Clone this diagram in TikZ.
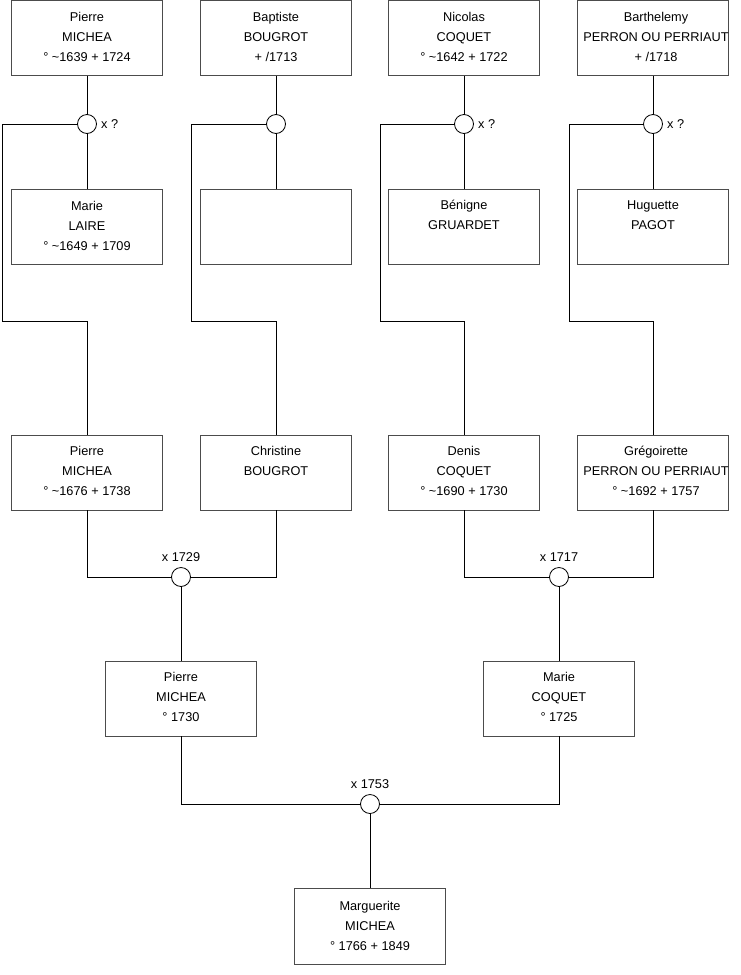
\documentclass[tikz,border=0pt]{standalone}
\usepackage{fontspec}
\setmainfont{Liberation Sans}
\begin{document}
\begin{tikzpicture}[x=1pt,y=-1pt,
  pbox/.style={draw=black!70, line width=0.8pt, minimum width=151pt, minimum height=75pt, inner sep=0pt},
  ptext/.style={anchor=north, align=center, inner sep=0pt, font=\fontsize{12.75}{20}\selectfont},
  ring/.style={circle, draw=black, line width=0.8pt, minimum size=19pt, inner sep=0pt, fill=white},
  lnk/.style={draw=black, line width=0.8pt},
  lab/.style={font=\fontsize{12.75}{14}\selectfont, inner sep=0pt}]
\useasboundingbox (0,0) rectangle (740,975);
\fill[white] (0,0) rectangle (740,975);
% top row
\node[pbox] (a1) at (87,38) {};
\node[pbox] (a2) at (276,38) {};
\node[pbox] (a3) at (464,38) {};
\node[pbox] (a4) at (653,38) {};
% spouses
\node[pbox] (s1) at (87,227) {};
\node[pbox] (s2) at (276,227) {};
\node[pbox] (s3) at (464,227) {};
\node[pbox] (s4) at (653,227) {};
% children
\node[pbox] (r1) at (87,472.5) {};
\node[pbox] (r2) at (276,472.5) {};
\node[pbox] (r3) at (464,472.5) {};
\node[pbox] (r4) at (653,472.5) {};
% row 4
\node[pbox] (q1) at (181,698.5) {};
\node[pbox] (q2) at (559,698.5) {};
% final
\node[pbox, minimum height=76pt] (m) at (370,926) {};
% texts
\node[ptext] (ta1) at ([yshift=-11.5pt]a1.north) {Pierre\\MICHEA\\° \char`~1639 + 1724};
\node[ptext] (ta2) at ([yshift=-11.5pt]a2.north) {Baptiste\\BOUGROT\\+ /1713};
\node[ptext] (ta3) at ([yshift=-11.5pt]a3.north) {Nicolas\\COQUET\\° \char`~1642 + 1722};
\node[ptext] (ta4) at ([xshift=3pt,yshift=-11.5pt]a4.north) {Barthelemy\\PERRON OU PERRIAUT\\+ /1718};
\node[ptext] (ts1) at ([yshift=-11.5pt]s1.north) {Marie\\LAIRE\\° \char`~1649 + 1709};
\node[ptext] (ts3) at ([yshift=-11pt]s3.north) {Bénigne\\GRUARDET};
\node[ptext] (ts4) at ([yshift=-11.5pt]s4.north) {Huguette\\PAGOT};
\node[ptext] (tr1) at ([yshift=-11.5pt]r1.north) {Pierre\\MICHEA\\° \char`~1676 + 1738};
\node[ptext] (tr2) at ([yshift=-11.5pt]r2.north) {Christine\\BOUGROT};
\node[ptext] (tr3) at ([yshift=-11.5pt]r3.north) {Denis\\COQUET\\° \char`~1690 + 1730};
\node[ptext] (tr4) at ([xshift=3pt,yshift=-11pt]r4.north) {Grégoirette\\PERRON OU PERRIAUT\\° \char`~1692 + 1757};
\node[ptext] (tq1) at ([yshift=-11.5pt]q1.north) {Pierre\\MICHEA\\° 1730};
\node[ptext] (tq2) at ([yshift=-11.5pt]q2.north) {Marie\\COQUET\\° 1725};
\node[ptext] (tm) at ([yshift=-13.5pt]m.north) {Marguerite\\MICHEA\\° 1766 + 1849};
% rings
\node[ring] (c1) at (87,124) {};
\node[ring] (c2) at (276,124) {};
\node[ring] (c3) at (464,124) {};
\node[ring] (c4) at (653,124) {};
\node[ring] (c5) at (181,577) {};
\node[ring] (c6) at (559,577) {};
\node[ring] (c7) at (370,804) {};
% corner coordinates
\coordinate (k1) at (2,321);
\coordinate (k2) at (191,321);
\coordinate (k3) at (380,321);
\coordinate (k4) at (569,321);
% connectors
\draw[lnk] (a1.south) -- (c1.north);
\draw[lnk] (a2.south) -- (c2.north);
\draw[lnk] (a3.south) -- (c3.north);
\draw[lnk] (a4.south) -- (c4.north);
\draw[lnk] (c1.south) -- (s1.north);
\draw[lnk] (c2.south) -- (s2.north);
\draw[lnk] (c3.south) -- (s3.north);
\draw[lnk] (c4.south) -- (s4.north);
\draw[lnk] (c1.west) -| (k1) -| (r1.north);
\draw[lnk] (c2.west) -| (k2) -| (r2.north);
\draw[lnk] (c3.west) -| (k3) -| (r3.north);
\draw[lnk] (c4.west) -| (k4) -| (r4.north);
\draw[lnk] (r1.south) |- (c5.west);
\draw[lnk] (r2.south) |- (c5.east);
\draw[lnk] (r3.south) |- (c6.west);
\draw[lnk] (r4.south) |- (c6.east);
\draw[lnk] (c5.south) -- (q1.north);
\draw[lnk] (c6.south) -- (q2.north);
\draw[lnk] (q1.south) |- (c7.west);
\draw[lnk] (q2.south) |- (c7.east);
\draw[lnk] (c7.south) -- (m.north);
% labels
\node[lab, anchor=west] (l1) at ([xshift=4pt]c1.east) {x ?};
\node[lab, anchor=west] (l3) at ([xshift=4pt]c3.east) {x ?};
\node[lab, anchor=west] (l4) at ([xshift=4pt]c4.east) {x ?};
\node[lab, anchor=south] (l5) at ([yshift=5pt]c5.north) {x 1729};
\node[lab, anchor=south] (l6) at ([yshift=5pt]c6.north) {x 1717};
\node[lab, anchor=south] (l7) at ([yshift=5pt]c7.north) {x 1753};
\end{tikzpicture}
\end{document}
